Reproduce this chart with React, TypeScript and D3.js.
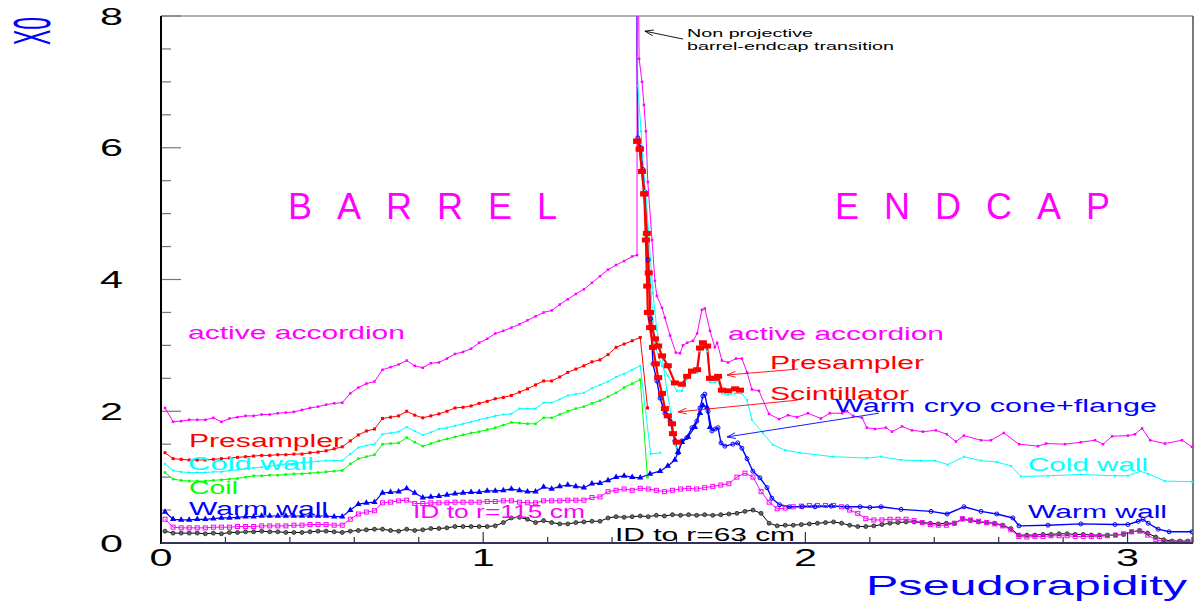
import React from 'react';
import * as d3 from 'd3';

const WIDTH = 1196;
const HEIGHT = 604;

type Pt = [number, number];

// eta bins are 0.025 wide, first centre at 0.0125
const binEta = (i: number) => 0.0125 + 0.025 * i;

// ---- barrel (bins from eta = 0) ----
const accBarrel = [
  2.05, 1.84, 1.85, 1.87, 1.87, 1.87, 1.9, 1.84, 1.89, 1.91,
  1.93, 1.93, 1.95, 1.95, 1.97, 1.98, 1.99, 2.02, 2.05, 2.07,
  2.1, 2.12, 2.13, 2.27, 2.36, 2.42, 2.45, 2.63, 2.67, 2.71,
  2.77, 2.69, 2.66, 2.73, 2.74, 2.8, 2.87, 2.9, 2.95, 3.04,
  3.1, 3.18, 3.22, 3.27, 3.32, 3.38, 3.44, 3.5, 3.53, 3.62,
  3.7, 3.78, 3.85, 3.95, 4.05, 4.15, 4.22, 4.28, 4.35,
];
const psBarrel = [
  1.37, 1.28, 1.27, 1.26, 1.26, 1.26, 1.27, 1.28, 1.29, 1.3,
  1.31, 1.32, 1.33, 1.33, 1.34, 1.34, 1.35, 1.35, 1.37, 1.38,
  1.4, 1.43, 1.46, 1.55, 1.64, 1.7, 1.73, 1.89, 1.91, 1.93,
  2.0, 1.94, 1.9, 1.93, 1.96, 2.0, 2.05, 2.06, 2.08, 2.12,
  2.15, 2.19, 2.21, 2.24, 2.29, 2.34, 2.4, 2.46, 2.46, 2.52,
  2.59, 2.64, 2.69, 2.75, 2.78, 2.86, 2.97, 3.02, 3.07, 3.12,
];
const coldBarrel = [
  1.2, 1.1, 1.08, 1.07, 1.07, 1.07, 1.08, 1.08, 1.1, 1.11,
  1.13, 1.14, 1.15, 1.17, 1.18, 1.2, 1.21, 1.22, 1.23, 1.24,
  1.25, 1.25, 1.25, 1.35, 1.45, 1.48, 1.5, 1.65, 1.67, 1.69,
  1.76, 1.7, 1.64, 1.68, 1.73, 1.75, 1.78, 1.81, 1.84, 1.87,
  1.9, 1.93, 1.95, 1.96, 2.04, 2.04, 2.04, 2.13, 2.13, 2.18,
  2.24, 2.26, 2.28, 2.35, 2.4, 2.45, 2.52, 2.57, 2.63, 2.69,
];
const coilBarrel = [
  1.07, 0.97, 0.95, 0.94, 0.94, 0.94, 0.95, 0.96, 0.97, 0.98,
  1.0, 1.02, 1.02, 1.03, 1.03, 1.04, 1.05, 1.05, 1.06, 1.07,
  1.08, 1.09, 1.1, 1.2, 1.28, 1.31, 1.34, 1.5, 1.51, 1.52,
  1.6, 1.53, 1.47, 1.51, 1.55, 1.58, 1.61, 1.64, 1.67, 1.69,
  1.72, 1.75, 1.79, 1.83, 1.82, 1.81, 1.81, 1.9, 1.9, 1.95,
  2.0, 2.04, 2.07, 2.12, 2.16, 2.22, 2.28, 2.36, 2.42, 2.48,
];
const warmBarrel = [
  0.47, 0.36, 0.35, 0.35, 0.36, 0.36, 0.37, 0.38, 0.38, 0.39,
  0.4, 0.4, 0.41, 0.41, 0.41, 0.41, 0.41, 0.41, 0.41, 0.41,
  0.41, 0.4, 0.4, 0.5, 0.59, 0.61, 0.62, 0.76, 0.77, 0.78,
  0.83, 0.76, 0.69, 0.7, 0.71, 0.73, 0.75, 0.76, 0.77, 0.77,
  0.79, 0.79, 0.8, 0.82, 0.8, 0.78, 0.78, 0.85, 0.82, 0.86,
  0.88, 0.86, 0.84, 0.9, 0.91, 0.95, 1.0, 1.02, 1.0, 0.99,
];

// ends of the barrel curves in the crack
const accCrack: Pt[] = [[1.4775, 4.37], [1.4775, 9.5]];
const psBarrelEnd: Pt[] = [[1.51, 2.05]];
const coldBarrelEnd: Pt[] = [[1.52, 1.35], [1.55, 1.37]];
const coilBarrelEnd: Pt[] = [[1.51, 1.0]];
const cryoFromBarrel: Pt[] = [
  [1.518, 1.05], [1.549, 1.09], [1.573, 1.17], [1.595, 1.26], [1.605, 1.38],
  [1.617, 1.53], [1.636, 1.61], [1.657, 1.76], [1.673, 1.97], [1.682, 2.09],
  [1.695, 2.06], [1.704, 1.76],
];

// ---- full range (0 - 3.2) ----
const id115 = [
  0.36, 0.24, 0.23, 0.23, 0.23, 0.23, 0.24, 0.24, 0.24, 0.25,
  0.25, 0.25, 0.26, 0.26, 0.26, 0.26, 0.27, 0.27, 0.28, 0.28,
  0.28, 0.27, 0.27, 0.36, 0.44, 0.47, 0.49, 0.61, 0.62, 0.64,
  0.65, 0.6, 0.6, 0.61, 0.61, 0.61, 0.62, 0.62, 0.62, 0.62,
  0.63, 0.63, 0.64, 0.64, 0.62, 0.61, 0.61, 0.64, 0.64, 0.64,
  0.65, 0.65, 0.65, 0.69, 0.7, 0.78, 0.8, 0.82, 0.8, 0.83,
  0.82, 0.8, 0.78, 0.8, 0.82, 0.83, 0.82, 0.84, 0.86, 0.88,
  0.9, 1.0, 1.06, 1.0, 0.78, 0.62, 0.52, 0.53, 0.55, 0.56,
  0.57, 0.57, 0.57, 0.57, 0.55, 0.5, 0.45, 0.37, 0.35, 0.35,
  0.36, 0.36, 0.36, 0.34, 0.31, 0.28, 0.27, 0.27, 0.3, 0.37,
  0.35, 0.33, 0.31, 0.29, 0.26, 0.2, 0.1, 0.09, 0.1, 0.1,
  0.11, 0.11, 0.11, 0.1, 0.1, 0.1, 0.1, 0.11, 0.12, 0.14,
  0.17, 0.18, 0.12, 0.05, 0.02, 0.02, 0.02, 0.02,
];
const id63 = [
  0.18, 0.15, 0.15, 0.15, 0.15, 0.14, 0.15, 0.14, 0.16, 0.16,
  0.17, 0.17, 0.18, 0.17, 0.17, 0.16, 0.16, 0.16, 0.17, 0.18,
  0.18, 0.17, 0.16, 0.18, 0.19, 0.2, 0.21, 0.21, 0.19, 0.18,
  0.21, 0.19, 0.2, 0.22, 0.22, 0.23, 0.25, 0.25, 0.25, 0.25,
  0.25, 0.26, 0.31, 0.38, 0.39, 0.36, 0.31, 0.34, 0.31, 0.29,
  0.29, 0.31, 0.32, 0.33, 0.33, 0.38, 0.4, 0.39, 0.4, 0.41,
  0.4, 0.42, 0.41, 0.43, 0.42, 0.43, 0.42, 0.43, 0.42, 0.43,
  0.44, 0.45, 0.48, 0.5, 0.45, 0.3, 0.26, 0.27, 0.27, 0.28,
  0.29, 0.3, 0.31, 0.32, 0.3, 0.27, 0.25, 0.25, 0.26, 0.28,
  0.3, 0.31, 0.32, 0.32, 0.31, 0.3, 0.29, 0.3, 0.3, 0.36,
  0.34, 0.32, 0.31, 0.3, 0.27, 0.22, 0.12, 0.12, 0.12, 0.13,
  0.13, 0.14, 0.14, 0.13, 0.13, 0.12, 0.12, 0.12, 0.12, 0.13,
  0.17, 0.19, 0.15, 0.09, 0.05, 0.03, 0.03, 0.03,
];

// ---- endcap ----
const accEndcap: Pt[] = [
  [1.48, 9.5], [1.484, 7.35], [1.493, 7.0], [1.499, 6.65], [1.505, 6.25], [1.511, 5.48],
  [1.524, 4.6], [1.533, 3.98], [1.539, 3.75], [1.555, 3.57], [1.564, 3.42], [1.58, 3.15],
  [1.598, 2.89], [1.611, 2.88], [1.62, 3.0], [1.633, 3.04], [1.651, 3.07], [1.664, 3.18],
  [1.679, 3.54], [1.688, 3.56], [1.704, 3.22], [1.719, 2.97], [1.726, 3.04], [1.741, 2.77],
  [1.76, 2.74], [1.785, 2.8], [1.803, 2.8], [1.819, 2.59], [1.834, 2.33], [1.856, 2.31],
  [1.887, 1.96], [1.918, 1.88], [1.946, 1.94], [1.974, 1.91], [2.008, 1.97], [2.048, 1.89],
  [2.076, 1.97], [2.114, 1.97], [2.129, 2.0], [2.148, 1.93], [2.176, 1.9], [2.191, 1.75],
  [2.216, 1.73], [2.25, 1.75], [2.269, 1.69], [2.3, 1.77], [2.331, 1.71], [2.365, 1.69],
  [2.405, 1.71], [2.439, 1.65], [2.467, 1.54], [2.492, 1.63], [2.545, 1.56], [2.576, 1.56],
  [2.616, 1.67], [2.663, 1.5], [2.722, 1.47], [2.747, 1.51], [2.806, 1.5], [2.855, 1.53],
  [2.899, 1.56], [2.924, 1.5], [2.952, 1.62], [3.001, 1.63], [3.023, 1.65], [3.045, 1.74],
  [3.07, 1.56], [3.116, 1.51], [3.169, 1.56], [3.2, 1.46],
];
const psEndcap: Pt[] = [
  [1.478, 6.1], [1.486, 5.98], [1.493, 5.64], [1.5, 5.3], [1.508, 4.7], [1.514, 4.1],
  [1.518, 3.5], [1.524, 3.27], [1.533, 3.1], [1.543, 2.99], [1.555, 2.84], [1.573, 2.69],
  [1.595, 2.43], [1.617, 2.41], [1.633, 2.53], [1.648, 2.61], [1.664, 2.63], [1.673, 2.96],
  [1.682, 3.04], [1.695, 2.99], [1.704, 2.5], [1.719, 2.5], [1.729, 2.53], [1.741, 2.32],
  [1.76, 2.31], [1.782, 2.34], [1.797, 2.32],
];
const sciEndcap: Pt[] = [
  [1.478, 6.1], [1.486, 5.98], [1.493, 5.64], [1.5, 5.3], [1.505, 4.6], [1.509, 3.9],
  [1.511, 3.5], [1.518, 3.27], [1.527, 2.97], [1.536, 2.72], [1.543, 2.51], [1.555, 2.27],
  [1.564, 2.04], [1.573, 1.93], [1.586, 1.81], [1.589, 1.66], [1.601, 1.53],
];
const coldEndcap: Pt[] = [
  [1.474, 9.5], [1.48, 6.94], [1.49, 6.25], [1.502, 5.35], [1.527, 3.37], [1.533, 3.0],
  [1.555, 2.69], [1.573, 2.54], [1.601, 2.31], [1.617, 2.31], [1.633, 2.49], [1.648, 2.58],
  [1.664, 2.58], [1.673, 2.91], [1.682, 2.99], [1.695, 2.91], [1.704, 2.44], [1.72, 2.44],
  [1.729, 2.47], [1.741, 2.27], [1.76, 2.25], [1.782, 2.27], [1.803, 2.27], [1.819, 2.17],
  [1.834, 1.87], [1.868, 1.67], [1.899, 1.49], [1.937, 1.41], [1.983, 1.37], [2.086, 1.31],
  [2.191, 1.29], [2.235, 1.31], [2.297, 1.26], [2.359, 1.25], [2.402, 1.25], [2.442, 1.19],
  [2.492, 1.31], [2.545, 1.25], [2.594, 1.23], [2.638, 1.17], [2.669, 1.01], [2.753, 1.02],
  [2.855, 1.04], [2.961, 1.02], [3.001, 1.02], [3.039, 1.09], [3.064, 1.05], [3.116, 0.94],
  [3.2, 0.93],
];
const coldScint: Pt[] = [
  [1.505, 5.3], [1.527, 3.79], [1.539, 3.23], [1.555, 2.82], [1.57, 2.32], [1.583, 1.96],
  [1.595, 1.5], [1.6, 1.45],
];
const warmEndcap: Pt[] = [
  [1.474, 9.5], [1.48, 6.15], [1.489, 6.0], [1.496, 5.67], [1.502, 5.33], [1.512, 4.3],
  [1.52, 3.4], [1.527, 2.72], [1.539, 2.46], [1.549, 2.2], [1.564, 1.97], [1.58, 1.85],
  [1.595, 1.55], [1.605, 1.37], [1.617, 1.55], [1.632, 1.6], [1.648, 1.75], [1.663, 1.85],
  [1.673, 2.05], [1.682, 2.23], [1.688, 2.26], [1.698, 2.0], [1.71, 1.7], [1.72, 1.73],
  [1.729, 1.75], [1.738, 1.52], [1.75, 1.47], [1.775, 1.5], [1.79, 1.52], [1.803, 1.44],
  [1.819, 1.28], [1.837, 1.09], [1.859, 0.99], [1.881, 0.84], [1.896, 0.68], [1.92, 0.58],
  [1.95, 0.55], [1.99, 0.55], [2.03, 0.55], [2.08, 0.56], [2.13, 0.55], [2.17, 0.55],
  [2.2, 0.54], [2.235, 0.55], [2.297, 0.51], [2.39, 0.48], [2.44, 0.44], [2.492, 0.55],
  [2.545, 0.48], [2.594, 0.44], [2.644, 0.38], [2.663, 0.26], [2.753, 0.27], [2.855, 0.29],
  [2.961, 0.28], [3.001, 0.28], [3.033, 0.33], [3.048, 0.36], [3.064, 0.3], [3.095, 0.21],
  [3.129, 0.17], [3.2, 0.17],
];

// annotation arrows, in (eta, X0)
const arrows: { from: Pt; to: Pt; color: string }[] = [
  { from: [1.62, 7.65], to: [1.502, 7.77], color: '#000' },
  { from: [1.977, 2.64], to: [1.757, 2.55], color: '#ff0000' },
  { from: [1.977, 2.17], to: [1.605, 1.99], color: '#ff0000' },
  { from: [2.228, 1.97], to: [1.757, 1.61], color: '#0000ff' },
];

const onBins = (vals: number[]): Pt[] => vals.map((v, i) => [binEta(i), v]);

const x = d3.scaleLinear().domain([0, 3.2]).range([161, 1192]);
const y = d3.scaleLinear().domain([0, 8]).range([543, 16]);
const line = d3.line<Pt>().x(d => x(d[0])).y(d => y(d[1]));

type MarkerKind = 'sq' | 'osq' | 'bcirc' | 'ocirc' | 'tri' | 'bar';
type Series = { pts: Pt[]; color: string; width: number; marker: MarkerKind; size: number };

const MAGENTA = '#ff00ff';
const RED = '#ff0000';
const CYAN = '#00ffff';
const GREEN = '#00ff00';
const BLUE = '#0000ff';

const series: Series[] = [
  { pts: onBins(id63), color: '#000', width: 1, marker: 'bcirc', size: 4 },
  { pts: onBins(id115), color: MAGENTA, width: 1, marker: 'osq', size: 4 },
  { pts: [...onBins(warmBarrel), ...cryoFromBarrel], color: BLUE, width: 1.2, marker: 'tri', size: 5 },
  { pts: warmEndcap, color: BLUE, width: 1.4, marker: 'ocirc', size: 4 },
  { pts: [...onBins(coilBarrel), ...coilBarrelEnd], color: GREEN, width: 1, marker: 'sq', size: 2.5 },
  { pts: [...onBins(coldBarrel), ...coldBarrelEnd], color: CYAN, width: 1, marker: 'sq', size: 2 },
  { pts: coldEndcap, color: CYAN, width: 1, marker: 'sq', size: 2 },
  { pts: coldScint, color: CYAN, width: 1, marker: 'sq', size: 2 },
  { pts: [...onBins(psBarrel), ...psBarrelEnd], color: RED, width: 1, marker: 'sq', size: 3 },
  { pts: sciEndcap, color: RED, width: 2.2, marker: 'bar', size: 8 },
  { pts: psEndcap, color: RED, width: 2.2, marker: 'bar', size: 8 },
  { pts: [...onBins(accBarrel), ...accCrack, ...accEndcap], color: MAGENTA, width: 1, marker: 'sq', size: 2.5 },
];

const triPath = (s: number) => d3.symbol(d3.symbolTriangle, s * s * 0.7)() as string;

function Marker({ kind, cx, cy, color, s }: { kind: MarkerKind; cx: number; cy: number; color: string; s: number }) {
  switch (kind) {
    case 'sq':
      return <rect x={cx - s / 2} y={cy - s / 2} width={s} height={s} fill={color} />;
    case 'osq':
      return <rect x={cx - s / 2} y={cy - s / 2} width={s} height={s} fill="none" stroke={color} strokeWidth={1} />;
    case 'bcirc':
      return <circle cx={cx} cy={cy} r={s / 2} fill="#666" stroke="#222" strokeWidth={0.8} />;
    case 'ocirc':
      return <circle cx={cx} cy={cy} r={s / 2} fill="none" stroke={color} strokeWidth={1} />;
    case 'tri':
      return <path d={triPath(s)} transform={`translate(${cx},${cy})`} fill={color} />;
    case 'bar':
      return <rect x={cx - s / 2} y={cy - 2.5} width={s} height={5} fill={color} />;
  }
}

function Arrow({ from, to, color }: { from: Pt; to: Pt; color: string }) {
  const x1 = x(from[0]), y1 = y(from[1]), x2 = x(to[0]), y2 = y(to[1]);
  const a = Math.atan2(y2 - y1, x2 - x1);
  const L = 9, w = 0.33;
  const p1 = [x2 - L * Math.cos(a - w), y2 - L * Math.sin(a - w)];
  const p2 = [x2 - L * Math.cos(a + w), y2 - L * Math.sin(a + w)];
  return (
    <g stroke={color} strokeWidth={0.9} fill="none">
      <line x1={x1} y1={y1} x2={x2} y2={y2} />
      <polyline points={`${p1[0]},${p1[1]} ${x2},${y2} ${p2[0]},${p2[1]}`} />
    </g>
  );
}

const FONT = '"Liberation Sans", Arial, Helvetica, sans-serif';

function Label({ t, px, py, color, len, size = 18 }: { t: string; px: number; py: number; color: string; len: number; size?: number }) {
  return (
    <text x={px} y={py} fill={color} fontSize={size} textLength={len} lengthAdjust="spacingAndGlyphs">
      {t}
    </text>
  );
}

export default function App() {
  const xTicks = d3.range(0, 3.2001, 0.2);
  const yTicks = d3.range(0, 8.001, 0.5);
  const [x0, x1] = x.range();
  const [y0, y1] = y.range();

  return (
    <div style={{ position: 'absolute', left: 0, top: 0 }}>
      <svg width={WIDTH} height={HEIGHT} style={{ display: 'block', background: '#fff' }} fontFamily={FONT}>
        <defs>
          <clipPath id="plot">
            <rect x={x0} y={y1} width={x1 - x0 + 1} height={y0 - y1} />
          </clipPath>
        </defs>

        {/* frame */}
        <line x1={x0} y1={y1} x2={x1 + 1} y2={y1} stroke="#999" strokeWidth={1.5} />
        <line x1={x1 + 1} y1={y1} x2={x1 + 1} y2={y0} stroke="#222" strokeWidth={1.2} />

        {/* ticks */}
        {yTicks.map(t => {
          const major = Math.abs(t / 2 - Math.round(t / 2)) < 1e-6;
          return <line key={'y' + t} x1={x0} x2={x0 + (major ? 20 : 10)} y1={y(t)} y2={y(t)} stroke="#777" strokeWidth={1.2} />;
        })}
        {xTicks.map(t => {
          const major = Math.abs(t - Math.round(t)) < 1e-6;
          return <line key={'x' + t} x1={x(t)} x2={x(t)} y1={y0} y2={y0 - (major ? 11 : 6)} stroke="#333" strokeWidth={1.2} />;
        })}

        {/* data */}
        <g clipPath="url(#plot)">
          {series.map((s, i) => (
            <path key={'l' + i} d={line(s.pts) as string} fill="none" stroke={s.color} strokeWidth={s.width} strokeLinejoin="round" />
          ))}
          {series.map((s, i) => (
            <g key={'m' + i}>
              {s.pts.map((p, j) => (
                <Marker key={j} kind={s.marker} cx={x(p[0])} cy={y(p[1])} color={s.color} s={s.size} />
              ))}
            </g>
          ))}
        </g>

        {/* axes */}
        <line x1={x0} y1={y1} x2={x0} y2={y0 + 1} stroke="#000" strokeWidth={2} />
        <line x1={x0} y1={y0} x2={x1 + 1} y2={y0} stroke="#33335a" strokeWidth={2} />

        {/* tick labels */}
        {[0, 2, 4, 6, 8].map(t => (
          <text key={'yl' + t} x={100} y={y(t) + 8.5} fontSize={24} fill="#000" textLength={23} lengthAdjust="spacingAndGlyphs">
            {t}
          </text>
        ))}
        {[0, 1, 2, 3].map(t => (
          <text key={'xl' + t} x={x(t) - 11.5} y={566} fontSize={24} fill="#000" textLength={23} lengthAdjust="spacingAndGlyphs">
            {t}
          </text>
        ))}

        {/* axis titles */}
        <text transform="translate(50,45) scale(1.6,1) rotate(-90)" fontSize={32} fill={BLUE} textLength={28} lengthAdjust="spacingAndGlyphs">
          X0
        </text>
        <Label t="Pseudorapidity" px={866} py={595} color={BLUE} len={321} size={28} />

        {/* region titles */}
        <text x={288} y={219} fontSize={36} fill={MAGENTA} letterSpacing={25}>BARREL</text>
        <text x={835} y={219} fontSize={36} fill={MAGENTA} letterSpacing={25}>ENDCAP</text>

        {/* curve labels */}
        <Label t="active accordion" px={188} py={339} color={MAGENTA} len={217} />
        <Label t="Presampler" px={189} py={447} color={RED} len={154} />
        <Label t="Cold wall" px={188} py={470} color={CYAN} len={126} />
        <Label t="Coil" px={189} py={494} color={GREEN} len={49} />
        <Label t="Warm wall" px={189} py={515} color={BLUE} len={139} />
        <Label t="ID to r=115 cm" px={413} py={518} color={MAGENTA} len={172} />
        <Label t="ID to r=63 cm" px={615} py={541} color="#000" len={180} />
        <Label t="active accordion" px={728} py={340} color={MAGENTA} len={216} />
        <Label t="Presampler" px={770} py={369} color={RED} len={154} />
        <Label t="Scintillator" px={770} py={400} color={RED} len={139} />
        <Label t="Warm cryo cone+flange" px={835} py={412} color={BLUE} len={322} />
        <Label t="Cold wall" px={1028} py={471} color={CYAN} len={120} />
        <Label t="Warm wall" px={1028} py={518} color={BLUE} len={139} />
        <Label t="Non projective" px={687} py={37} color="#000" len={126} size={11} />
        <Label t="barrel-endcap transition" px={687} py={50} color="#000" len={207} size={11} />

        {arrows.map((a, i) => (
          <Arrow key={'a' + i} {...a} />
        ))}
      </svg>
    </div>
  );
}
